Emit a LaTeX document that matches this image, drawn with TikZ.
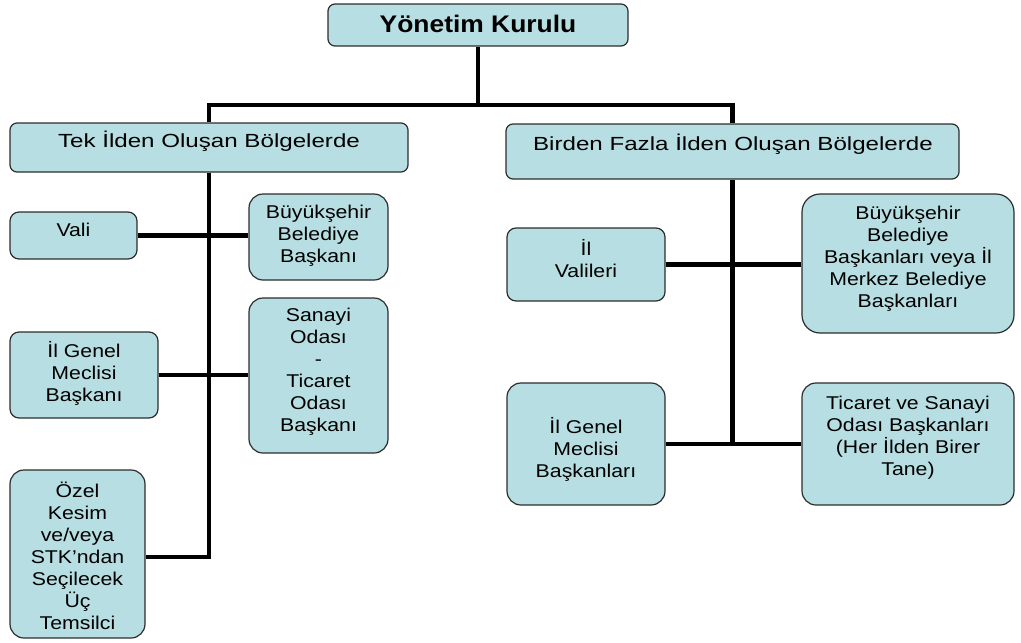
\documentclass[tikz,border=0pt]{standalone}
\usepackage{fontspec}
\setmainfont{Liberation Sans}
\newfontfamily\bodyfont[FakeStretch=1.15]{Liberation Sans}
\newfontfamily\headfont[FakeStretch=1.27]{Liberation Sans}
\newfontfamily\titlefont[FakeStretch=1.1]{Liberation Sans}
\usetikzlibrary{backgrounds}
\definecolor{boxfill}{RGB}{183,222,226}
\definecolor{boxline}{RGB}{45,45,45}
\tikzset{
  box/.style={draw=boxline, line width=1.2pt, fill=boxfill, rounded corners=9pt, inner sep=0pt},
  bigbox/.style={box, rounded corners=14pt},
  conn/.style={line width=4.6pt, black},
  txt/.style={align=center, inner sep=0pt, text=black, font=\bodyfont\fontsize{18.5}{22}\selectfont},
  headtxt/.style={align=center, inner sep=0pt, text=black, font=\headfont\fontsize{19}{22}\selectfont},
  titletxt/.style={align=center, inner sep=0pt, text=black, font=\titlefont\bfseries\fontsize{24}{28}\selectfont},
}
\begin{document}
\begin{tikzpicture}[x=1pt,y=-1pt]
\useasboundingbox (0,0) rectangle (1021,643);

% boxes
\node[box, rounded corners=7pt, minimum width=300pt, minimum height=42pt] (yk) at (478,25) {};
\node[box, rounded corners=7pt, minimum width=398pt, minimum height=49pt] (tek) at (209,147.5) {};
\node[box, rounded corners=7pt, minimum width=453pt, minimum height=55pt] (birden) at (732.5,151.5) {};

\node[box, minimum width=127pt, minimum height=47pt] (vali) at (73.5,235.5) {};
\node[bigbox, minimum width=139pt, minimum height=86pt] (bsb) at (318.5,237) {};
\node[box, minimum width=148pt, minimum height=86pt] (igm) at (84,375) {};
\node[bigbox, minimum width=139pt, minimum height=155pt] (sto) at (318.5,375.5) {};
\node[bigbox, minimum width=135pt, minimum height=168pt] (ozel) at (77.5,554) {};

\node[box, minimum width=158pt, minimum height=73pt] (ilv) at (586,264.5) {};
\node[bigbox, rounded corners=18pt, minimum width=212pt, minimum height=139pt] (rbsb) at (908,263.5) {};
\node[bigbox, minimum width=158pt, minimum height=122pt] (igmb) at (586,444) {};
\node[bigbox, minimum width=212pt, minimum height=122pt] (tso) at (908,444) {};

% texts
\node[titletxt] (yk-t) at (478,24) {Yönetim Kurulu};
\node[headtxt] (tek-t) at (209,141) {Tek İlden Oluşan Bölgelerde};
\node[headtxt] (birden-t) at (733,144) {Birden Fazla İlden Oluşan Bölgelerde};

\node[txt] (vali-t) at (73.5,230) {Vali};
\node[txt] (bsb-t) at (318.5,236) {Büyükşehir\\Belediye\\Başkanı};
\node[txt] (igm-t) at (84,373) {İl Genel\\Meclisi\\Başkanı};
\node[txt] (sto-t) at (318.5,372) {Sanayi\\Odası\\-\\Ticaret\\Odası\\Başkanı};
\node[txt] (ozel-t) at (77.5,556) {Özel\\Kesim\\ve/veya\\STK’ndan\\Seçilecek\\Üç\\Temsilci};

\node[txt] (ilv-t) at (586,259) {İl\\Valileri};
\node[txt] (rbsb-t) at (908,259) {Büyükşehir\\Belediye\\Başkanları veya İl\\Merkez Belediye\\Başkanları};
\node[txt] (igmb-t) at (586,449) {İl Genel\\Meclisi\\Başkanları};
\node[txt] (tso-t) at (908,438) {Ticaret ve Sanayi\\Odası Başkanları\\(Her İlden Birer\\Tane)};

% connectors
\coordinate (bus) at (478,105);
\begin{scope}[on background layer]
  \draw[conn] (yk.south) -- (bus);
  \draw[conn] (tek.north) |- (bus) -| (birden.north);
  \draw[conn] (tek.south) |- ([yshift=-3pt]ozel.east);
  \draw[conn] (vali.east) -- (vali.east -| bsb.west);
  \draw[conn] (igm.east) -- (igm.east -| sto.west);
  \draw[conn] (birden.south) -- (birden.south |- igmb.east);
  \draw[conn] (ilv.east) -- (ilv.east -| rbsb.west);
  \draw[conn] (igmb.east) -- (tso.west);
\end{scope}
\end{tikzpicture}
\end{document}
